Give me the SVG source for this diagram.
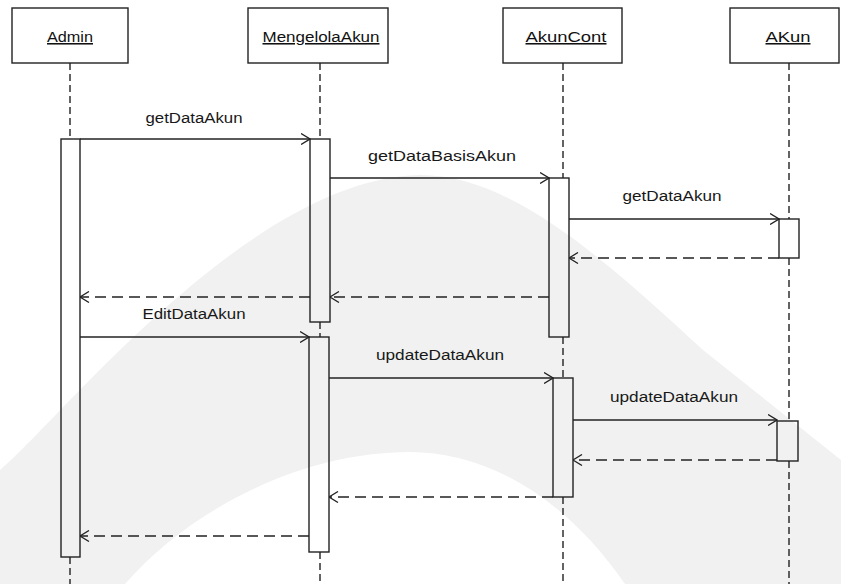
<svg xmlns="http://www.w3.org/2000/svg" width="841" height="584" viewBox="0 0 841 584">
  <defs>
    <style>
      .box { fill: #ffffff; stroke: #222222; stroke-width: 1.4; }
      .bar { fill: none; stroke: #222222; stroke-width: 1.4; }
      .life { stroke: #222222; stroke-width: 1.4; stroke-dasharray: 7 4; fill: none; }
      .msg { stroke: #222222; stroke-width: 1.4; fill: none; marker-end: url(#open); }
      .ret { stroke: #222222; stroke-width: 1.4; fill: none; stroke-dasharray: 11 6; marker-end: url(#open); }
      .name { font-family: "Liberation Sans", Arial, sans-serif; font-size: 15.5px; fill: #111111; text-anchor: middle; text-decoration: underline; }
      .lbl { font-family: "Liberation Sans", Arial, sans-serif; font-size: 15.5px; fill: #181818; text-anchor: middle; }
    </style>
    <marker id="open" viewBox="0 0 10 12" refX="9.5" refY="6" markerWidth="10" markerHeight="12" markerUnits="userSpaceOnUse" orient="auto">
      <path d="M0.5,0.5 L9.5,6 L0.5,11.5" fill="none" stroke="#222222" stroke-width="1.3"/>
    </marker>
  </defs>

  <rect width="841" height="584" fill="#ffffff"/>

  <!-- faint background band -->
  <path d="M0,470 C60,420 250,178 420,175 C510,175 600,255 703,350 L841,460 L841,584 L625,584 C560,490 480,452 410,452 C300,452 190,510 125,584 L0,584 Z" fill="#f1f1f1"/>

  <!-- lifelines -->
  <g id="lifelines">
    <path class="life" d="M70,63 V139 M70,557 V584"/>
    <path class="life" d="M320,63 V139 M320,322 V337 M320,552 V584"/>
    <path class="life" d="M563,63 V178 M563,337 V378 M563,497 V584"/>
    <path class="life" d="M789,63 V219 M789,258 V421 M789,461 V584"/>
  </g>

  <g id="node-admin">
    <rect class="box" x="12" y="8" width="116" height="55"/>
    <text class="name" x="70" y="42" textLength="46" lengthAdjust="spacingAndGlyphs">Admin</text>
    <rect class="bar" x="61" y="139" width="19" height="418"/>
  </g>

  <g id="node-mengelolaakun">
    <rect class="box" x="248" y="8" width="140" height="55"/>
    <text class="name" x="321" y="42" textLength="117" lengthAdjust="spacingAndGlyphs">MengelolaAkun</text>
    <rect class="bar" x="310" y="139" width="20" height="183"/>
    <rect class="bar" x="309" y="337" width="20" height="215"/>
  </g>

  <g id="node-akuncont">
    <rect class="box" x="503" y="8" width="119" height="55"/>
    <text class="name" x="566" y="42" textLength="81" lengthAdjust="spacingAndGlyphs">AkunCont</text>
    <rect class="bar" x="549" y="178" width="20" height="159"/>
    <rect class="bar" x="553" y="378" width="20" height="119"/>
  </g>

  <g id="node-akun">
    <rect class="box" x="730" y="8" width="109" height="55"/>
    <text class="name" x="788" y="42" textLength="45" lengthAdjust="spacingAndGlyphs">AKun</text>
    <rect class="bar" x="779" y="219" width="20" height="39"/>
    <rect class="bar" x="777" y="421" width="21" height="40"/>
  </g>

  <!-- messages -->
  <g id="connectors">
    <line class="msg" x1="80" y1="139" x2="310" y2="139"/>
    <line class="msg" x1="330" y1="178" x2="549" y2="178"/>
    <line class="msg" x1="569" y1="219" x2="779" y2="219"/>
    <line class="ret" x1="779" y1="258" x2="569" y2="258"/>
    <line class="ret" x1="549" y1="297" x2="330" y2="297"/>
    <line class="ret" x1="310" y1="297" x2="80" y2="297"/>
    <line class="msg" x1="80" y1="337" x2="309" y2="337"/>
    <line class="msg" x1="329" y1="378" x2="553" y2="378"/>
    <line class="msg" x1="573" y1="420" x2="777" y2="420"/>
    <line class="ret" x1="777" y1="460" x2="573" y2="460"/>
    <line class="ret" x1="553" y1="497" x2="329" y2="497"/>
    <line class="ret" x1="309" y1="536" x2="80" y2="536"/>
  </g>

  <g id="labels">
    <text class="lbl" x="194" y="123" textLength="97" lengthAdjust="spacingAndGlyphs">getDataAkun</text>
    <text class="lbl" x="442" y="161" textLength="148" lengthAdjust="spacingAndGlyphs">getDataBasisAkun</text>
    <text class="lbl" x="672" y="201" textLength="99" lengthAdjust="spacingAndGlyphs">getDataAkun</text>
    <text class="lbl" x="194" y="319" textLength="103" lengthAdjust="spacingAndGlyphs">EditDataAkun</text>
    <text class="lbl" x="440" y="360" textLength="128" lengthAdjust="spacingAndGlyphs">updateDataAkun</text>
    <text class="lbl" x="674" y="402" textLength="128" lengthAdjust="spacingAndGlyphs">updateDataAkun</text>
  </g>
</svg>
